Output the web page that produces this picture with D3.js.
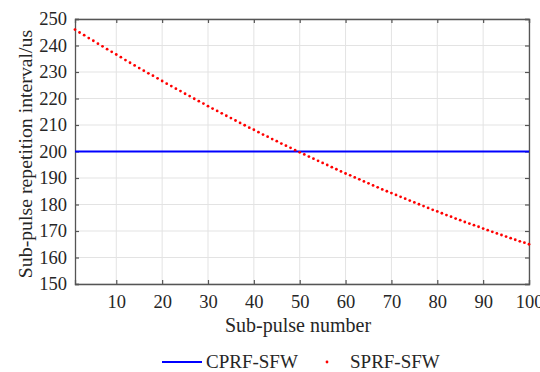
<!DOCTYPE html>
<html><head><meta charset="utf-8">
<script src="https://cdn.jsdelivr.net/npm/d3@7"></script>
<style>body{margin:0;background:#fff}svg{display:block}text{font-family:"Liberation Serif","Times New Roman",serif;fill:#262626}</style>
</head><body><div id="chart"></div>
<script>
const xTicks = [10,20,30,40,50,60,70,80,90,100];
const yTicks = [150,160,170,180,190,200,210,220,230,240,250];
const subPulse = d3.range(1, 101);
const cprfValues = subPulse.map(() => 200);
const sprfValues = [
246.0,244.9,243.9,242.8,241.8,240.7,239.7,238.6,237.6,236.6,
235.6,234.5,233.5,232.5,231.5,230.5,229.5,228.6,227.6,226.6,
225.6,224.7,223.7,222.8,221.8,220.9,219.9,219.0,218.1,217.1,
216.2,215.3,214.4,213.5,212.6,211.7,210.8,209.9,209.0,208.2,
207.3,206.4,205.6,204.7,203.9,203.0,202.2,201.4,200.5,199.7,
198.9,198.1,197.3,196.5,195.7,194.9,194.1,193.3,192.5,191.7,
191.0,190.2,189.5,188.7,188.0,187.2,186.5,185.7,185.0,184.3,
183.6,182.9,182.2,181.5,180.8,180.1,179.4,178.7,178.0,177.4,
176.7,176.0,175.4,174.7,174.1,173.4,172.8,172.2,171.6,170.9,
170.3,169.7,169.1,168.5,167.9,167.3,166.7,166.1,165.6,165.0];
const seriesNames = ["CPRF-SFW","SPRF-SFW"];

const W = 540, H = 372;
const m = {l:75, t:19, r:529, b:284};
const svg = d3.select("#chart").append("svg").attr("width", W).attr("height", H);
const x = d3.scaleLinear().domain([1,100]).range([m.l, m.r]);
const y = d3.scaleLinear().domain([150,250]).range([m.b, m.t]);

// grid
svg.append("g").selectAll("line").data(xTicks).join("line")
  .attr("x1", d=>x(d)).attr("x2", d=>x(d)).attr("y1", m.t).attr("y2", m.b)
  .attr("stroke", "#e3e3e3").attr("stroke-width", 1);
svg.append("g").selectAll("line").data(yTicks).join("line")
  .attr("x1", m.l).attr("x2", m.r).attr("y1", d=>y(d)).attr("y2", d=>y(d))
  .attr("stroke", "#e3e3e3").attr("stroke-width", 1);

// axes (ticks inside)
const axisColor = "#555";
const gx = svg.append("g").attr("transform", `translate(0,${m.b})`)
  .call(d3.axisBottom(x).tickValues(xTicks).tickSize(-4).tickPadding(11));
const gxt = svg.append("g").attr("transform", `translate(0,${m.t})`)
  .call(d3.axisTop(x).tickValues(xTicks).tickSize(-4).tickFormat(""));
const gy = svg.append("g").attr("transform", `translate(${m.l},0)`)
  .call(d3.axisLeft(y).tickValues(yTicks).tickSize(-4).tickPadding(8));
const gyr = svg.append("g").attr("transform", `translate(${m.r},0)`)
  .call(d3.axisRight(y).tickValues(yTicks).tickSize(-4).tickFormat(""));
[gx,gxt,gy,gyr].forEach(g=>{
  g.attr("font-family", null).attr("font-size", null);
  g.selectAll("path").attr("stroke", axisColor).attr("stroke-width", 1.3);
  g.selectAll("line").attr("stroke", axisColor).attr("stroke-width", 1.2);
  g.selectAll("text").attr("font-size", 18.5).attr("fill", "#262626");
});

// series
const line = d3.line().x((d,i)=>x(subPulse[i])).y(d=>y(d));
svg.append("path").datum(cprfValues).attr("d", line)
  .attr("fill","none").attr("stroke","#0000ff").attr("stroke-width",2);
svg.append("g").selectAll("circle").data(sprfValues).join("circle")
  .attr("cx",(d,i)=>x(subPulse[i])).attr("cy",d=>y(d)).attr("r",1.4).attr("fill","#ff0000");

// axis titles
svg.append("text").attr("x",298).attr("y",332).attr("text-anchor","middle")
  .attr("font-size",20).text("Sub-pulse number");
svg.append("text").attr("transform",`translate(32,154) rotate(-90)`)
  .attr("text-anchor","middle").attr("font-size",19.8).text("Sub-pulse repetition interval/us");

// legend
const ly = 362;
svg.append("line").attr("x1",162).attr("x2",202).attr("y1",ly).attr("y2",ly)
  .attr("stroke","#0000ff").attr("stroke-width",2);
svg.append("text").attr("x",206).attr("y",ly+6).attr("font-size",19).text(seriesNames[0]);
svg.append("circle").attr("cx",327).attr("cy",ly).attr("r",1.4).attr("fill","#ff0000");
svg.append("text").attr("x",350).attr("y",ly+6).attr("font-size",19).text(seriesNames[1]);
</script></body></html>
